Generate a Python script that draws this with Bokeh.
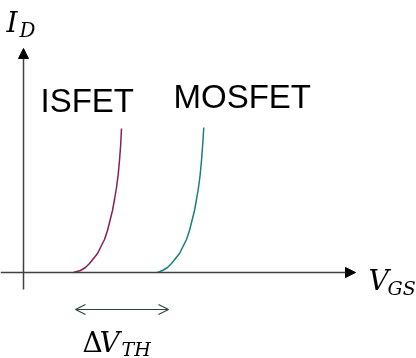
from bokeh.plotting import figure
from bokeh.models import Arrow, NormalHead, OpenHead, Range1d
from bokeh.core.properties import value
from bokeh.embed import file_html
from bokeh.resources import INLINE

# Transfer curves (V_GS, I_D in arbitrary units, origin at the axes crossing)
isfet_vgs = [50, 57, 62, 66, 70, 74, 77, 81, 84, 86.5, 89, 91, 93, 94.7, 96, 97.2, 98]
isfet_id = [0, 2, 5, 9, 14, 19, 25, 33, 42, 52, 62, 73, 85, 98, 112, 128, 144]
mosfet_vgs = [134, 139, 144, 148, 152, 156, 159, 163, 166, 168.5, 171, 173, 175, 176.7, 178, 179.2, 180.3]
mosfet_id = [0, 2, 5, 9, 14, 19, 25, 33, 42, 52, 62, 73, 85, 98, 112, 128, 145]

series_names = ["ISFET", "MOSFET"]
series_colors = ["#8a1c5c", "#177f7d"]

# Axis extents and threshold-shift marker (same units)
vgs_axis = [-23, 332]
id_axis = [-17, 224]
delta_vth = [52, 145]
delta_level = -37

p = figure(width=416, height=358, x_range=Range1d(-23, 393), y_range=Range1d(-86, 272),
           output_backend="svg", toolbar_location=None, min_border=0,
           x_axis_location=None, y_axis_location=None, outline_line_color=None)
p.styles = {"position": "fixed", "left": "0px", "top": "0px"}
p.grid.visible = False
p.background_fill_color = "white"
p.border_fill_color = "white"

axis_color = "#404040"
# V_GS axis
p.add_layout(Arrow(x_start=vgs_axis[0], y_start=0, x_end=vgs_axis[1], y_end=0,
                   line_color=axis_color, line_width=1.5,
                   end=NormalHead(size=10, fill_color="black", line_color="black")))
# I_D axis
p.add_layout(Arrow(x_start=0, y_start=id_axis[0], x_end=0, y_end=id_axis[1],
                   line_color=axis_color, line_width=1.5,
                   end=NormalHead(size=10, fill_color="black", line_color="black")))

# curves
p.line(isfet_vgs, isfet_id, line_color=series_colors[0], line_width=1.5)
p.line(mosfet_vgs, mosfet_id, line_color=series_colors[1], line_width=1.5)

# threshold shift double arrow
dcol = "#2d4545"
p.add_layout(Arrow(x_start=delta_vth[0], y_start=delta_level, x_end=delta_vth[1], y_end=delta_level,
                   line_color=dcol, line_width=1.2,
                   start=OpenHead(size=10, line_color=dcol, line_width=1.2),
                   end=OpenHead(size=10, line_color=dcol, line_width=1.2)))

sans = value("Liberation Sans")
serif = value("DejaVu Serif")

# series labels
p.text(x=[17, 150], y=[172, 176], text=series_names, text_font=sans, text_font_size="33px",
       text_color="black", text_baseline="alphabetic", text_align="left")

# I_D label
p.text(x=[-17], y=[250], text=["I"], text_font=serif, text_font_style="italic",
       text_font_size="28px", text_color="black", text_baseline="alphabetic")
p.text(x=[-4], y=[243], text=["D"], text_font=serif, text_font_style="italic",
       text_font_size="20px", text_color="black", text_baseline="alphabetic")

# V_GS label
p.text(x=[345], y=[-8], text=["V"], text_font=serif, text_font_style="italic",
       text_font_size="28px", text_color="black", text_baseline="alphabetic")
p.text(x=[364], y=[-15], text=["GS"], text_font=serif, text_font_style="italic",
       text_font_size="19px", text_color="black", text_baseline="alphabetic")

# Delta V_TH label
p.text(x=[59], y=[-70], text=["Δ"], text_font=serif,
       text_font_size="28px", text_color="black", text_baseline="alphabetic")
p.text(x=[76], y=[-70], text=["V"], text_font=serif, text_font_style="italic",
       text_font_size="28px", text_color="black", text_baseline="alphabetic")
p.text(x=[98], y=[-76], text=["TH"], text_font=serif, text_font_style="italic",
       text_font_size="19px", text_color="black", text_baseline="alphabetic")

open("out.html", "w").write(file_html(p, INLINE))
